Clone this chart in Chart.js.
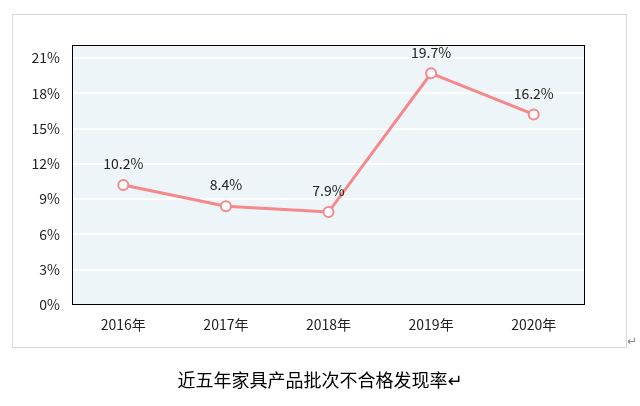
<!DOCTYPE html><html><head><meta charset="utf-8"><script src="https://cdn.jsdelivr.net/npm/chart.js@4"></script>
<style>body{margin:0;background:#fff}#w{width:640px;height:406px;position:relative}</style></head><body><div id="w"><canvas id="c"></canvas></div><script>
const categories=["2016年","2017年","2018年","2019年","2020年"];
const rates=[10.2,8.4,7.9,19.7,16.2];
const yTicks=[0,3,6,9,12,15,18,21];
const F='"Noto Sans CJK SC","DejaVu Sans",sans-serif';
const deco={id:'deco',beforeDraw(ch){const c=ch.ctx,a=ch.chartArea;c.save();c.strokeStyle='#d9d9d9';c.lineWidth=1;c.strokeRect(12.5,14.5,614,333);
c.fillStyle='#eef5f8';c.fillRect(a.left,a.top,a.right-a.left,a.bottom-a.top);c.restore();},
afterDatasetsDraw(ch){const c=ch.ctx,a=ch.chartArea;c.save();c.strokeStyle='#000';c.lineWidth=1;c.strokeRect(a.left+0.5,a.top+0.5,a.right-a.left-1,a.bottom-a.top-1);
const m=ch.getDatasetMeta(0);c.fillStyle='#222';c.font='14px '+F;c.textAlign='center';c.textBaseline='bottom';
m.data.forEach((p,i)=>c.fillText(rates[i].toFixed(1)+'%',p.x,p.y-14));
c.font='18px '+F;c.fillStyle='#000';c.textBaseline='middle';c.fillText('近五年家具产品批次不合格发现率↵',320,380);
c.font='12px '+F;c.fillStyle='#888';c.fillText('↵',632,340);c.restore();}};
new Chart(document.getElementById('c'),{type:'line',data:{labels:categories,datasets:[{data:rates,borderColor:'#f4888a',borderWidth:3,pointRadius:5,pointBorderWidth:2,pointBackgroundColor:'#fff',pointBorderColor:'#f4888a',tension:0}]},
options:{responsive:true,maintainAspectRatio:false,animation:false,layout:{padding:{left:0,right:55,top:45,bottom:71}},
plugins:{legend:{display:false},tooltip:{enabled:false}},
scales:{x:{offset:true,grid:{display:false},border:{display:false},ticks:{color:'#222',font:{size:14,family:F}},afterFit(s){s.height=30}},
y:{min:0,max:22.1,grid:{color:'#fff',lineWidth:2,drawTicks:false},border:{display:false},afterBuildTicks(s){s.ticks=yTicks.map(v=>({value:v}))},
ticks:{color:'#222',padding:12,font:{size:14,family:F},callback:v=>v+'%'},afterFit(s){s.width=72}}}},plugins:[deco]});
</script></body></html>
